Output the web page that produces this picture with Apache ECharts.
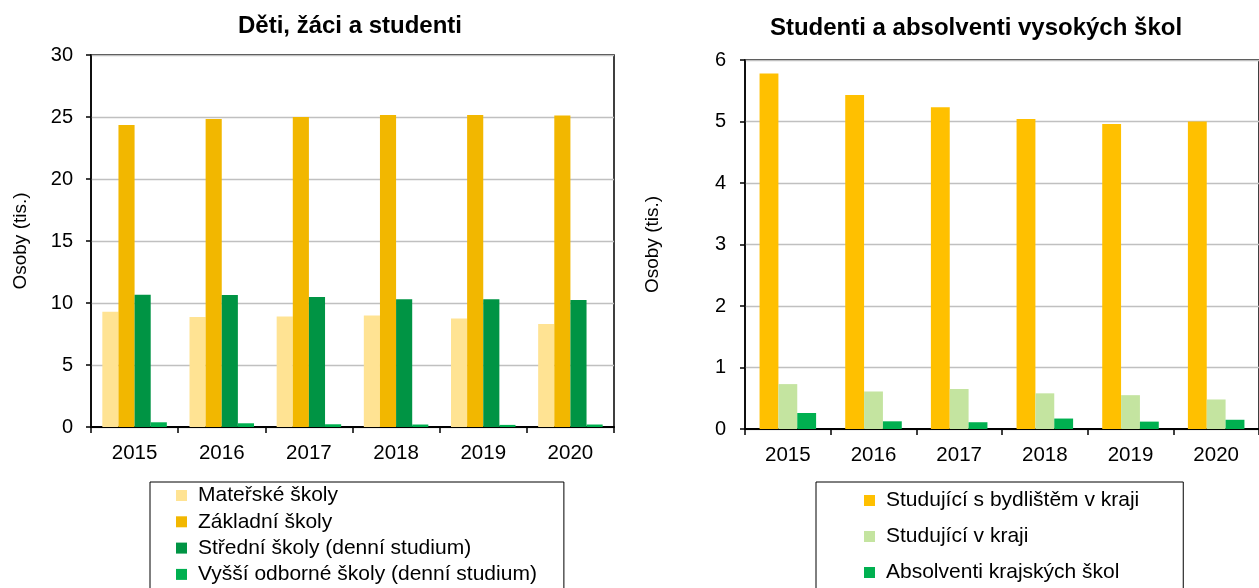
<!DOCTYPE html>
<html>
<head>
<meta charset="utf-8">
<script src="https://cdn.jsdelivr.net/npm/echarts@6/dist/echarts.min.js"></script>
<style>
html,body{margin:0;padding:0;background:#fff;}
#c{width:1259px;height:588px;}
</style>
</head>
<body>
<div id="c"></div>
<script>
const years = ['2015','2016','2017','2018','2019','2020'];
const materske = [9.3, 8.87, 8.92, 9.0, 8.76, 8.3];
const zakladni = [24.35, 24.84, 25.0, 25.16, 25.16, 25.12];
const stredni = [10.67, 10.64, 10.48, 10.3, 10.3, 10.25];
const vyssi = [0.38, 0.3, 0.22, 0.2, 0.17, 0.2];
const studBydliste = [5.78, 5.43, 5.23, 5.04, 4.96, 5.0];
const studKraj = [0.73, 0.61, 0.65, 0.58, 0.55, 0.48];
const absolventi = [0.26, 0.125, 0.11, 0.17, 0.12, 0.15];
const leftTicks = [0, 30, 5];
const rightTicks = [0, 6, 1];

const FONT = '"Liberation Sans", Arial, sans-serif';
const chart = echarts.init(document.getElementById('c'));

function yAx(gi, t, nameGap) {
  return {
    gridIndex: gi, type: 'value', min: t[0], max: t[1], interval: t[2],
    name: 'Osoby (tis.)', nameLocation: 'middle', nameRotate: 90, nameGap: nameGap,
    nameTextStyle: {fontFamily: FONT, fontSize: 19, color: '#000'},
    axisLine: {show: true, lineStyle: {color: '#000', width: 1.5}},
    axisTick: {show: true, length: 5, lineStyle: {color: '#000', width: 1.5}},
    axisLabel: {fontFamily: FONT, fontSize: 20, color: '#000', margin: gi === 0 ? 18 : 19},
    splitLine: {show: true, lineStyle: {color: '#c0c0c0', width: 1.3}}
  };
}
function xAx(gi) {
  return {
    gridIndex: gi, type: 'category', data: years,
    axisLine: {show: true, lineStyle: {color: '#000', width: 2}},
    axisTick: {show: true, length: 6, lineStyle: {color: '#000', width: 1.5}},
    axisLabel: {fontFamily: FONT, fontSize: 20.5, color: '#000', margin: 16}
  };
}
function bar(name, data, color, gi, gap) {
  return {
    name: name, type: 'bar', data: data, xAxisIndex: gi, yAxisIndex: gi,
    barGap: '0%', barCategoryGap: gap,
    itemStyle: {color: color}, animation: false
  };
}

chart.setOption({
  animation: false,
  title: [
    {text: 'Děti, žáci a studenti', left: 345, top: 9, textAlign: 'center',
     textStyle: {fontFamily: FONT, fontSize: 24, fontWeight: 'bold', color: '#000'}},
    {text: 'Studenti a absolventi vysokých škol', left: 971, top: 11, textAlign: 'center',
     textStyle: {fontFamily: FONT, fontSize: 24, fontWeight: 'bold', color: '#000'}}
  ],
  grid: [
    {left: 91, top: 55, width: 523, height: 372, show: true, borderColor: '#000', borderWidth: 1.5, backgroundColor: 'transparent'},
    {left: 745, top: 60, width: 526, height: 369, show: true, borderColor: '#000', borderWidth: 1.5, backgroundColor: 'transparent'}
  ],
  xAxis: [xAx(0), xAx(1)],
  yAxis: [yAx(0, leftTicks, 61), yAx(1, rightTicks, 83)],
  legend: [
    {orient: 'vertical', left: 150, top: 482, height: 400,
     data: ['Mateřské školy', 'Základní školy', 'Střední školy (denní studium)', 'Vyšší odborné školy (denní studium)'],
     icon: 'rect', itemWidth: 11, itemHeight: 11, itemGap: 5.3,
     padding: [3, 27, 10, 26], borderColor: '#000', borderWidth: 1,
     textStyle: {fontFamily: FONT, fontSize: 21, color: '#000', lineHeight: 21, padding: [0, 0, 0, 6]}},
    {orient: 'vertical', left: 816, top: 482, height: 400,
     data: ['Studující s bydlištěm v kraji', 'Studující v kraji', 'Absolventi krajských škol'],
     icon: 'rect', itemWidth: 11, itemHeight: 11, itemGap: 15,
     padding: [8, 44, 10, 48], borderColor: '#000', borderWidth: 1,
     textStyle: {fontFamily: FONT, fontSize: 21, color: '#000', lineHeight: 21, padding: [0, 0, 0, 6]}}
  ],
  series: [
    bar('Mateřské školy', materske, '#ffe393', 0, '26%'),
    bar('Základní školy', zakladni, '#f2b700', 0, '26%'),
    bar('Střední školy (denní studium)', stredni, '#009444', 0, '26%'),
    bar('Vyšší odborné školy (denní studium)', vyssi, '#00b050', 0, '26%'),
    bar('Studující s bydlištěm v kraji', studBydliste, '#ffc000', 1, '34%'),
    bar('Studující v kraji', studKraj, '#c4e4a0', 1, '34%'),
    bar('Absolventi krajských škol', absolventi, '#00b050', 1, '34%')
  ]
});
</script>
</body>
</html>
